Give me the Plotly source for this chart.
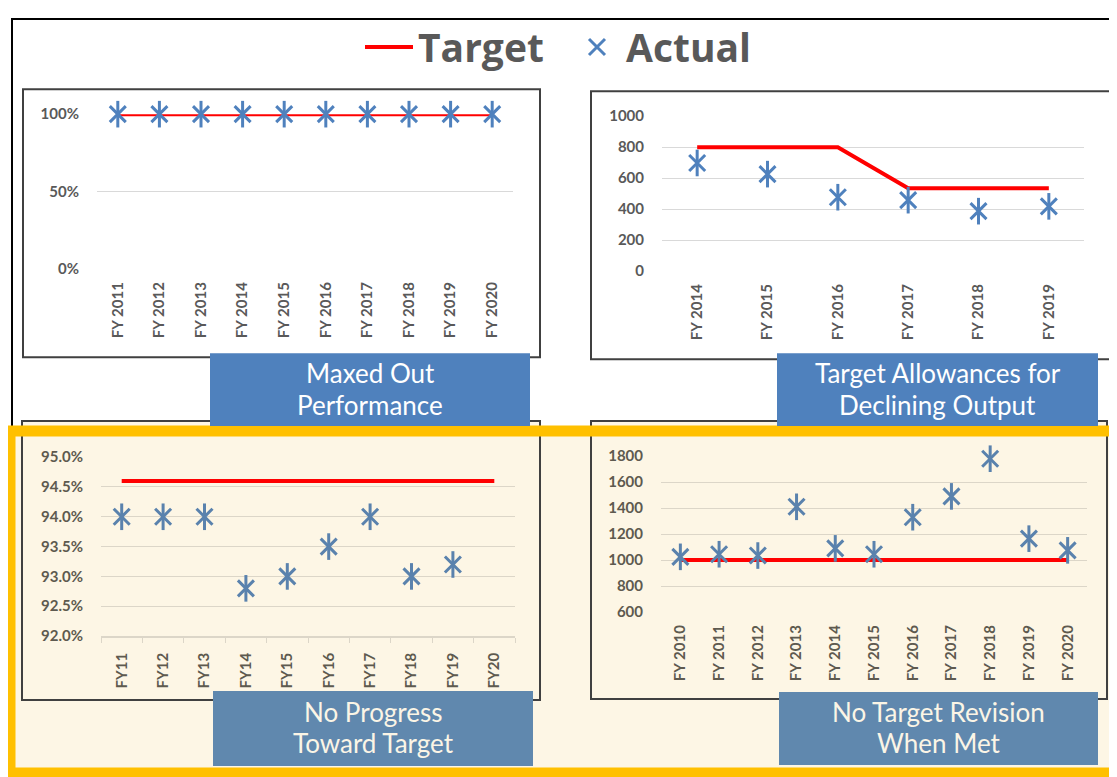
import plotly.graph_objects as go

# --- data -------------------------------------------------------------
p1_years = ["FY 2011", "FY 2012", "FY 2013", "FY 2014", "FY 2015",
            "FY 2016", "FY 2017", "FY 2018", "FY 2019", "FY 2020"]
p1_target = [1.0, 1.0, 1.0, 1.0, 1.0, 1.0, 1.0, 1.0, 1.0, 1.0]
p1_actual = [1.0, 1.0, 1.0, 1.0, 1.0, 1.0, 1.0, 1.0, 1.0, 1.0]

p2_years = ["FY 2014", "FY 2015", "FY 2016", "FY 2017", "FY 2018", "FY 2019"]
p2_target = [800, 800, 800, 535, 535, 535]
p2_actual = [698, 626, 477, 458, 387, 418]

p3_years = ["FY11", "FY12", "FY13", "FY14", "FY15",
            "FY16", "FY17", "FY18", "FY19", "FY20"]
p3_target = [0.946, 0.946, 0.946, 0.946, 0.946, 0.946, 0.946, 0.946, 0.946, 0.946]
p3_actual = [0.940, 0.940, 0.940, 0.928, 0.930, 0.935, 0.940, 0.930, 0.932, None]

p4_years = ["FY 2010", "FY 2011", "FY 2012", "FY 2013", "FY 2014", "FY 2015",
            "FY 2016", "FY 2017", "FY 2018", "FY 2019", "FY 2020"]
p4_target = [1000, 1000, 1000, 1000, 1000, 1000, 1000, 1000, 1000, 1000, 1000]
p4_actual = [1025, 1045, 1035, 1410, 1090, 1045, 1330, 1490, 1780, 1165, 1075]

captions = [("Maxed Out", "Performance"),
            ("Target Allowances for", "Declining Output"),
            ("No Progress", "Toward Target"),
            ("No Target Revision", "When Met")]

# html body adds an 8px margin; the photographed page comes out squeezed a bit
# vertically, so picture positions are mapped back to figure pixels below
BODY = 8
W, H = 1117 - 2 * BODY, 777
VSCALE, VOFF = 0.977, 9.0

RED = "#FF0000"
BLUE_TOP = "#4F81BD"
BLUE_BOT = "#5A82AD"
TXT_TOP = "#595959"
TXT_BOT = "#5E5A4F"
CREAM = "#FDF6E5"
ORANGE = "#FFC000"
GRID_TOP = "#D9D9D9"
GRID_BOT = "#DCD6C8"


def fx(px):
    return (px - BODY) / W


def fy(py):
    fig_y = (py - VOFF) / VSCALE - BODY
    return 1 - fig_y / H


fig = go.Figure()


def add_panel(n, years, target, actual, blue, legend=False):
    xa = "x" if n == 1 else f"x{n}"
    ya = "y" if n == 1 else f"y{n}"
    fig.add_trace(go.Scatter(
        x=years, y=target, mode="lines", name="Target",
        line=dict(color=RED, width=4), xaxis=xa, yaxis=ya,
        showlegend=legend, cliponaxis=False,
    ))
    # excel style star marker = X + vertical stroke
    fig.add_trace(go.Scatter(
        x=years, y=actual, mode="markers", name="Actual",
        marker=dict(symbol="x-thin-open", size=16, color=blue,
                    line=dict(width=3)),
        xaxis=xa, yaxis=ya, showlegend=legend, cliponaxis=False,
    ))
    fig.add_trace(go.Scatter(
        x=years, y=actual, mode="markers", name="Actual",
        marker=dict(symbol="line-ns-open", size=19, color=blue,
                    line=dict(width=3)),
        xaxis=xa, yaxis=ya, showlegend=False, cliponaxis=False,
    ))


add_panel(1, p1_years, p1_target, p1_actual, BLUE_TOP, legend=True)
add_panel(2, p2_years, p2_target, p2_actual, BLUE_TOP)
add_panel(3, p3_years, p3_target, p3_actual, BLUE_BOT)
add_panel(4, p4_years, p4_target, p4_actual, BLUE_BOT)


def xaxis(x0, x1, anchor, color, **kw):
    ax = dict(domain=[fx(x0), fx(x1)], anchor=anchor, type="category",
              showgrid=False, zeroline=False, showline=False,
              tickangle=-90, ticklabelstandoff=9,
              tickfont=dict(family="Lato", size=15, weight="bold", color=color),
              fixedrange=True)
    ax.update(kw)
    return ax


def yaxis(y_top, y_bot, anchor, color, grid, **kw):
    ax = dict(domain=[fy(y_bot), fy(y_top)], anchor=anchor,
              showgrid=True, gridcolor=grid, gridwidth=1,
              zeroline=False, showline=False, ticklabelstandoff=17,
              tickfont=dict(family="Lato", size=15, weight="bold", color=color),
              fixedrange=True)
    ax.update(kw)
    return ax


shapes = []
# outer black frame (bottom and right run off / under the orange box)
shapes.append(dict(type="rect", xref="paper", yref="paper", layer="below",
                   x0=fx(12), x1=fx(1130), y0=fy(500), y1=1 - 1 / H,
                   line=dict(color="#000000", width=2), fillcolor="white"))
# cream highlight area
shapes.append(dict(type="rect", xref="paper", yref="paper", layer="below",
                   x0=fx(10), x1=fx(1130), y0=fy(772), y1=fy(430),
                   line=dict(width=0), fillcolor=CREAM))
# panel frames
for x0, x1, y0, y1, fill in [(23, 540, 88, 356, "white"),
                             (591, 1112, 90, 358, "white"),
                             (22, 540, 420, 699, CREAM),
                             (591, 1107, 420, 698, CREAM)]:
    shapes.append(dict(type="rect", xref="paper", yref="paper", layer="below",
                       x0=fx(x0), x1=fx(x1), y0=fy(y1), y1=fy(y0),
                       line=dict(color="#404040", width=2), fillcolor=fill))
# orange outline on top of the lower frames
shapes.append(dict(type="rect", xref="paper", yref="paper", layer="below",
                   x0=fx(10), x1=fx(1130), y0=fy(772), y1=fy(430),
                   line=dict(color=ORANGE, width=11), fillcolor="rgba(0,0,0,0)"))

# caption boxes: x0, x1, y0, y1, fill, text colour, line-1 y, line-2 y
cap_boxes = [(210, 530, 352, 425, BLUE_TOP, "white", 372, 404),
             (777, 1098, 352, 425, BLUE_TOP, "white", 372, 404),
             (213, 533, 690, 765, "#6088AE", "#FBF5E6", 711, 742),
             (779, 1098, 691, 764, "#6088AE", "#FBF5E6", 711, 742)]
annotations = []
for (x0, x1, y0, y1, fill, tc, l1, l2), lines in zip(cap_boxes, captions):
    shapes.append(dict(type="rect", xref="paper", yref="paper", layer="below",
                       x0=fx(x0), x1=fx(x1), y0=fy(y1), y1=fy(y0),
                       line=dict(width=0), fillcolor=fill))
    for text, ly in zip(lines, (l1, l2)):
        annotations.append(dict(xref="paper", yref="paper", showarrow=False,
                                x=fx((x0 + x1) / 2), y=fy(ly),
                                xanchor="center", yanchor="middle", text=text,
                                font=dict(family="Lato", size=26, color=tc)))

fig.update_layout(
    width=W, height=H,
    margin=dict(l=0, r=0, t=0, b=0),
    paper_bgcolor="white", plot_bgcolor="rgba(0,0,0,0)",
    showlegend=True,
    legend=dict(orientation="h", x=fx(360), xanchor="left", y=fy(46),
                yanchor="middle", bgcolor="rgba(0,0,0,0)", itemwidth=48,
                entrywidth=145, entrywidthmode="pixels",
                font=dict(family="Open Sans", size=39, weight="bold", color=TXT_TOP)),
    xaxis=xaxis(97, 513, "y", TXT_TOP, range=[-0.5, 9.5]),
    yaxis=yaxis(113, 268, "x", TXT_TOP, GRID_TOP, range=[0, 1],
                tickvals=[0, 0.5, 1], tickformat=".0%"),
    xaxis2=xaxis(662, 1084, "y2", TXT_TOP, range=[-0.5, 5.5]),
    yaxis2=yaxis(115, 270, "x2", TXT_TOP, GRID_TOP, range=[0, 1000], dtick=200),
    # panel 3 has a visible category axis line with tick marks
    xaxis3=xaxis(101, 515, "y3", TXT_BOT, range=[-0.5, 9.5],
                 ticks="outside", tickson="boundaries", ticklen=5,
                 tickcolor=GRID_BOT, showline=True, linecolor=GRID_BOT,
                 linewidth=1.5),
    yaxis3=yaxis(456, 635, "x3", TXT_BOT, GRID_BOT, range=[0.92, 0.95],
                 dtick=0.005, tickformat=".1%"),
    xaxis4=xaxis(661, 1087, "y4", TXT_BOT, range=[-0.5, 10.5]),
    yaxis4=yaxis(455, 611, "x4", TXT_BOT, GRID_BOT, range=[600, 1800], dtick=200),
    shapes=shapes,
    annotations=annotations,
)

fig.write_html("out.html", config=dict(displayModeBar=False))
